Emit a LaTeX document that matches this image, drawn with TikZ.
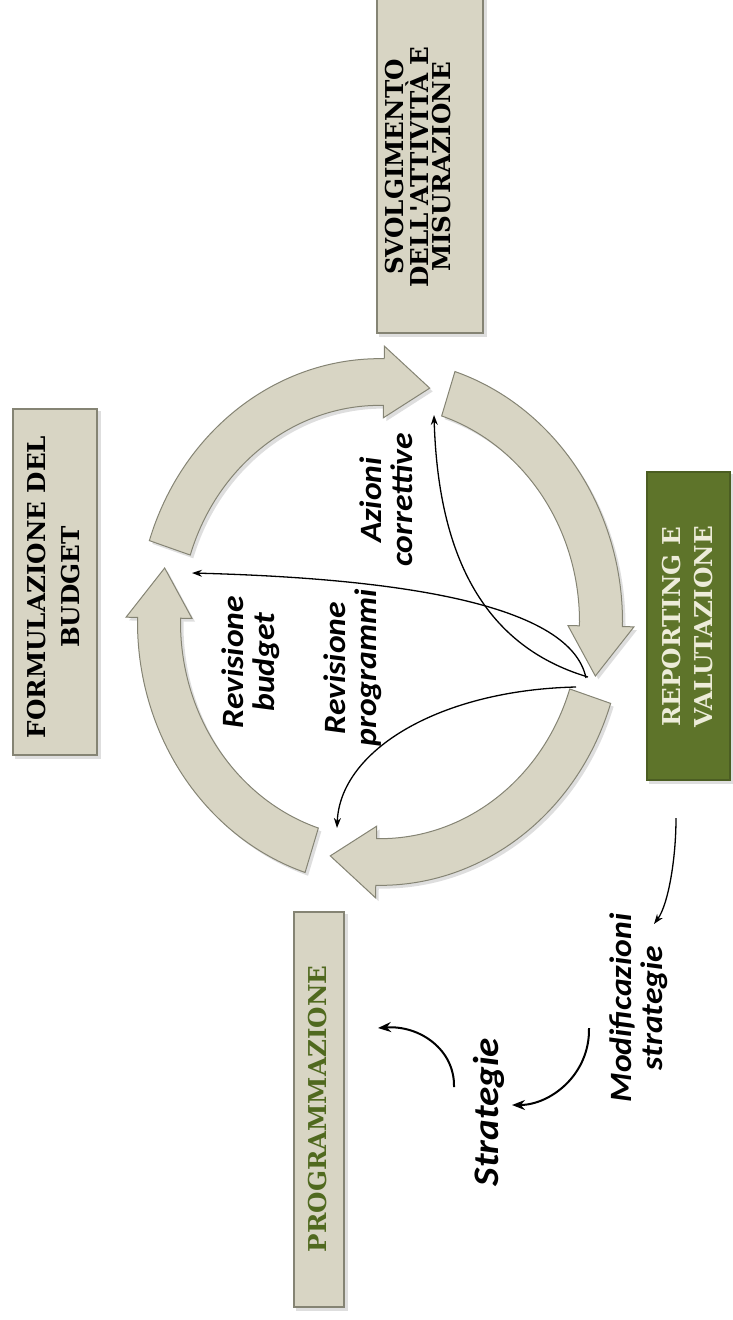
\documentclass[tikz,border=0pt]{standalone}
\usepackage{fontspec}
\usetikzlibrary{arrows.meta,backgrounds}
\newfontfamily\boxfont{DejaVu Serif}
\newfontfamily\labfont[FakeStretch=1.086]{Carlito}
\definecolor{beige}{HTML}{D8D5C4}
\definecolor{beigeline}{HTML}{858474}
\definecolor{olive}{HTML}{5E742A}
\definecolor{olivetext}{HTML}{50691F}
\definecolor{paletext}{HTML}{EDECD9}
\begin{document}
\begin{tikzpicture}[x=1pt,y=-1pt,
  box/.style={draw=beigeline, line width=1.4pt, fill=beige, rotate=90, inner sep=0pt},
  boxtext/.style={rotate=90, align=center, inner sep=0pt, font=\boxfont\bfseries\fontsize{24.6}{22}\selectfont},
  lab/.style={rotate=90, align=center, inner sep=0pt, font=\labfont\bfseries\itshape\fontsize{31}{31}\selectfont},
  conn/.style={line width=1.3pt, -{Stealth[length=10pt,width=7pt]}},
  bigconn/.style={line width=2pt, -{Stealth[length=13pt,width=10pt]}},
  ringarrow/.style={fill=beige, draw=beigeline, line width=1pt, line join=miter},
  shade/.style={fill=black, opacity=0.13}]

\useasboundingbox (0,0) rectangle (732,1320);

% ring of four block arrows
\begin{scope}[shift={(380,622)}, yscale=-1.086]
  \foreach \s/\e in {162/77, 72/-13, -18/-103, -108/-193} {
    \pgfmathsetmacro\h{\e+12}
    \fill[shade, shift={(3,-3)}] (\s:242.5) arc[start angle=\s, end angle=\h, radius=242.5]
      -- (\h:254) -- (\e:221) -- (\h:188) -- (\h:199.5)
      arc[start angle=\h, end angle=\s, radius=199.5] -- cycle;
  }
  \foreach \s/\e in {162/77, 72/-13, -18/-103, -108/-193} {
    \pgfmathsetmacro\h{\e+12}
    \path[ringarrow] (\s:242.5) arc[start angle=\s, end angle=\h, radius=242.5]
      -- (\h:254) -- (\e:221) -- (\h:188) -- (\h:199.5)
      arc[start angle=\h, end angle=\s, radius=199.5] -- cycle;
  }
\end{scope}

% boxes
\node[box, minimum width=336pt, minimum height=106pt] (b1) at (430,165) {};
\node[box, minimum width=346pt, minimum height=84pt] (b2) at (55,582) {};
\node[box, fill=olive, draw=olive!80!black, minimum width=308pt, minimum height=83pt] (b3) at (688.5,626) {};
\node[box, minimum width=395pt, minimum height=50pt] (b4) at (319,1109.5) {};

\begin{scope}[on background layer]
  \foreach \b in {b1,b2,b3,b4}
    \fill[shade] ([shift={(3,3)}]\b.south west) rectangle ([shift={(3,3)}]\b.north east);
\end{scope}

\node[boxtext] (t1) at (418,167) {SVOLGIMENTO\\DELL'ATTIVITÀ E\\MISURAZIONE};
\node[boxtext, font=\boxfont\bfseries\fontsize{24.6}{34}\selectfont] (t2) at (54,587) {FORMULAZIONE DEL\\BUDGET};
\node[boxtext, text=paletext, font=\boxfont\bfseries\fontsize{24.6}{32}\selectfont] (t3) at (688,627) {REPORTING E\\VALUTAZIONE};
\node[boxtext, text=olivetext] (t4) at (318,1109) {PROGRAMMAZIONE};

% italic labels
\node[lab] (azioni) at (386,500) {Azioni\\correttive};
\node[lab] (revb) at (251,662) {Revisione\\budget};
\node[lab] (revp) at (353,668) {Revisione\\programmi};
\node[lab] (modif) at (639,1008) {Modificazioni\\strategie};
\node[lab, font=\labfont\bfseries\itshape\fontsize{36}{36}\selectfont] (strat) at (489,1112) {Strategie};

% connector end points
\coordinate (o1) at (586,678);
\coordinate (e1) at (192,573);
\coordinate (o2) at (588,677);
\coordinate (e2) at (434,415);
\coordinate (o3) at (576,687);
\coordinate (e3) at (337,828);
\coordinate (m1) at (676,818);
\coordinate (m2) at (654,924);
\coordinate (s1) at (589,1028);
\coordinate (s2) at (512,1105);
\coordinate (p1) at (454,1087);
\coordinate (p2) at (378,1028);

\draw[conn] (o1) .. controls (570,600) and (380,578) .. (e1);
\draw[conn] (o2) .. controls (480,645) and (438,550) .. (e2);
\draw[conn] (o3) .. controls (440,690) and (340,750) .. (e3);
\draw[conn] (m1) .. controls (676,860) and (668,905) .. (m2);
\draw[bigconn] (s1) .. controls (590,1075) and (550,1105) .. (s2);
\draw[bigconn] (p1) .. controls (455,1050) and (420,1025) .. (p2);
\end{tikzpicture}
\end{document}
